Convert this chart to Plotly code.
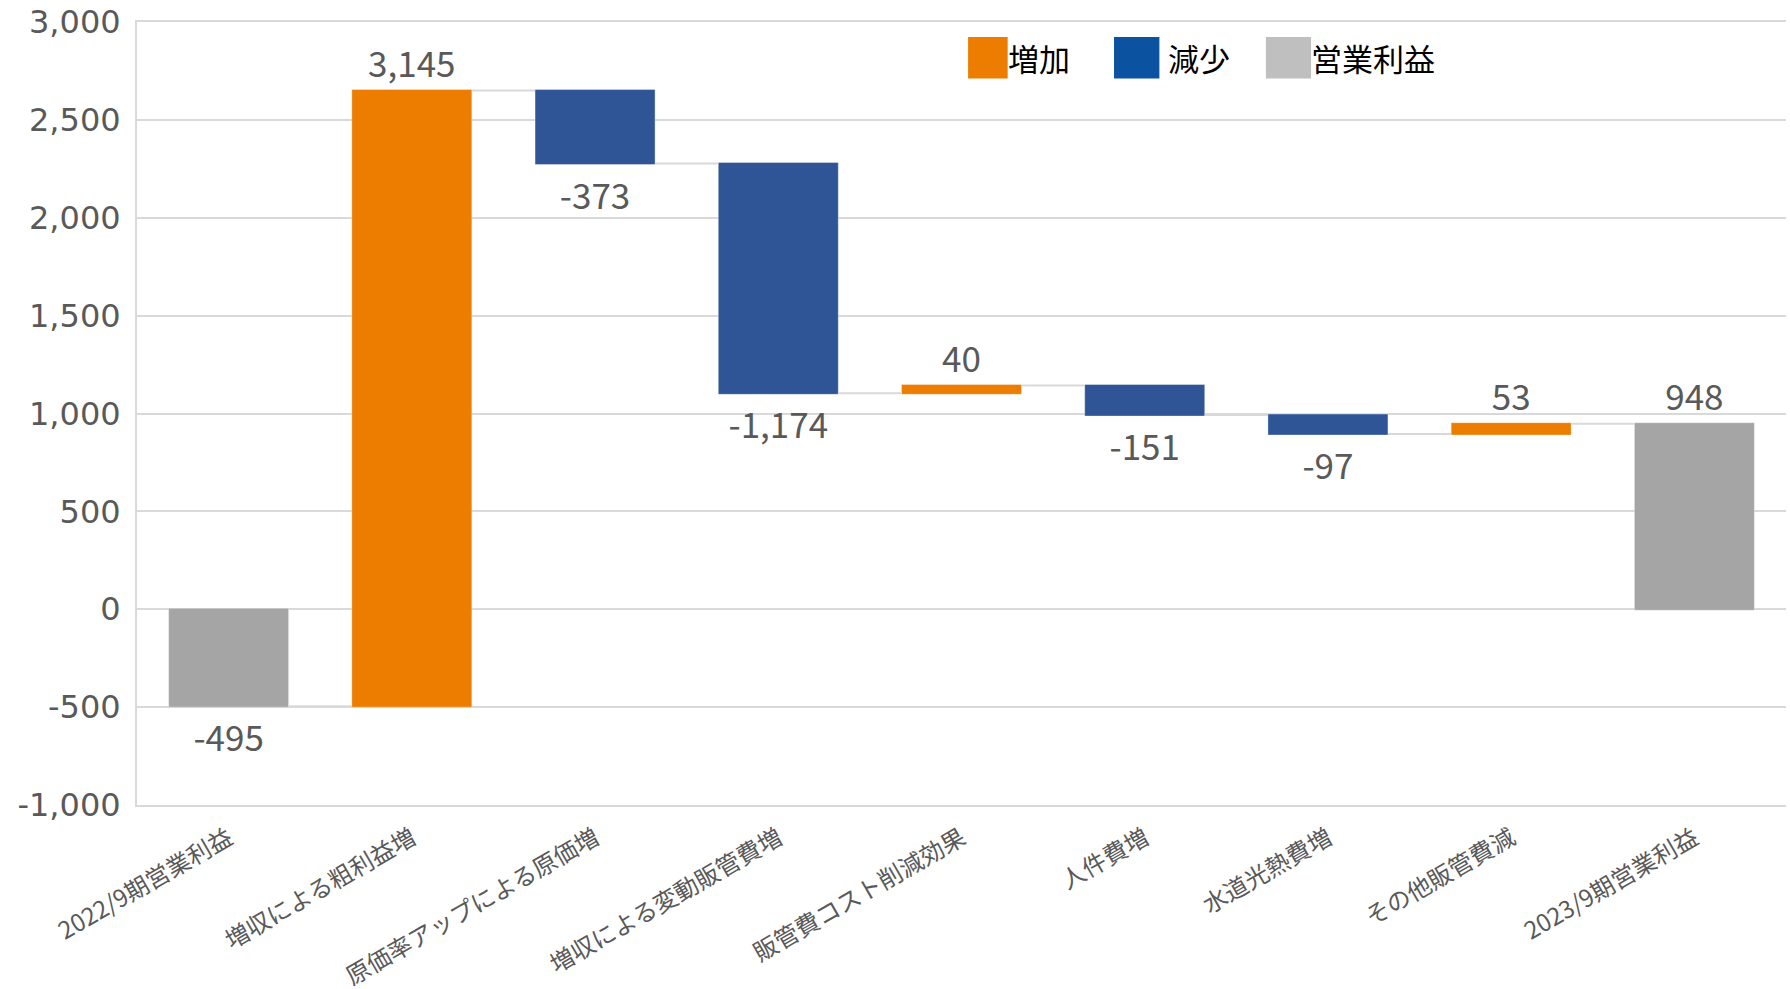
import plotly.graph_objects as go

categories = ["2022/9期営業利益", "増収による粗利益増", "原価率アップによる原価増", "増収による変動販管費増",
              "販管費コスト削減効果", "人件費増", "水道光熱費増", "その他販管費減", "2023/9期営業利益"]
values = [-495, 3145, -373, -1174, 40, -151, -97, 53, 948]
measures = ["absolute", "relative", "relative", "relative", "relative", "relative", "relative", "relative", "total"]
y_ticks = [-1000, -500, 0, 500, 1000, 1500, 2000, 2500, 3000]
y_tick_text = ["-1,000", "-500", "0", "500", "1,000", "1,500", "2,000", "2,500", "3,000"]
legend_labels = ["増加", "減少", "営業利益"]
legend_colors = ["#ED7D00", "#0B52A0", "#BFBFBF"]

labels = [f"{v:,}" for v in values]

fig = go.Figure()
fig.add_trace(go.Waterfall(
    x=categories, y=values, measure=measures,
    text=labels, textposition="outside",
    textfont=dict(family="Noto Sans CJK JP", size=35, color="#595959"),
    increasing=dict(marker=dict(color="#ED7D00", line=dict(color="rgba(255,255,255,0.35)", width=1))),
    decreasing=dict(marker=dict(color="#2F5597", line=dict(color="rgba(255,255,255,0.35)", width=1))),
    totals=dict(marker=dict(color="#A5A5A5", line=dict(color="rgba(255,255,255,0.35)", width=1))),
    connector=dict(mode="between", line=dict(color="#D9D9D9", width=2)),
    cliponaxis=False, showlegend=False,
))

shapes = []
annotations = []
sq = [(0.504, 0.528, 0.527), (0.5925, 0.620, 0.624), (0.6846, 0.712, 0.711)]
for (x0, x1, tx), lab, col in zip(sq, legend_labels, legend_colors):
    shapes.append(dict(type="rect", xref="paper", yref="paper", x0=x0, x1=x1, y0=0.928, y1=0.981,
                       fillcolor=col, line=dict(width=0)))
    annotations.append(dict(xref="paper", yref="paper", x=tx, y=0.955, text=lab, showarrow=False,
                            xanchor="left", yanchor="middle",
                            font=dict(family="Noto Sans CJK JP", size=31, color="#000000")))

fig.update_layout(
    width=1790, height=989,
    margin=dict(l=137, r=4, t=22, b=184),
    paper_bgcolor="white", plot_bgcolor="white",
    waterfallgap=0.345,
    shapes=shapes, annotations=annotations,
    xaxis=dict(tickangle=-30, automargin=False, showline=True, mirror=True, linecolor="#D9D9D9", linewidth=2,
               ticklabelstandoff=8,
               tickfont=dict(family="Noto Sans CJK JP", size=24, color="#595959"), showgrid=False),
    yaxis=dict(range=[-1000, 3000], tickvals=y_ticks, ticktext=y_tick_text, automargin=False,
               showline=True, linecolor="#D9D9D9", linewidth=2,
               gridcolor="#D9D9D9", gridwidth=2, zeroline=True, zerolinecolor="#D9D9D9", zerolinewidth=2,
               ticklabelstandoff=8, ticklabeloverflow="allow",
               tickfont=dict(family="DejaVu Sans", size=32, color="#595959")),
)

fig.write_html("out.html", config={"displayModeBar": False},
               post_script="document.body.style.margin='0';document.body.style.overflow='hidden';")
